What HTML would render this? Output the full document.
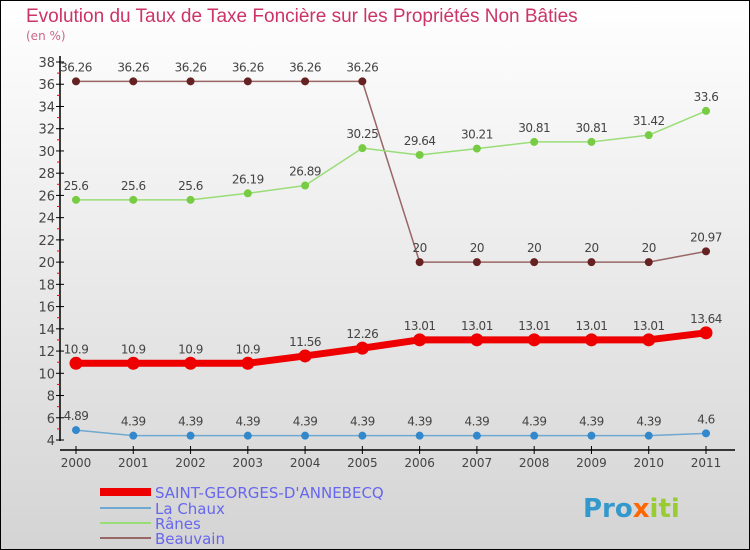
<!DOCTYPE html>
<html><head><meta charset="utf-8"><style>
body{margin:0}
svg{display:block;font-family:"DejaVu Sans","Liberation Sans",sans-serif}
</style></head><body>
<svg id="chart" width="750" height="550" xmlns="http://www.w3.org/2000/svg">
<defs><linearGradient id="bg" x1="0" y1="0" x2="0" y2="1"><stop offset="0" stop-color="#ffffff"/><stop offset="1" stop-color="#d4d4d4"/></linearGradient></defs>
<rect x="0.5" y="0.5" width="749" height="549" fill="url(#bg)" stroke="#000"/>
<text x="26" y="22" font-size="19" fill="#cc3366" font-family="Liberation Sans, sans-serif">Evolution du Taux de Taxe Foncière sur les Propriétés Non Bâties</text>
<text x="26" y="40" font-size="12" fill="#cc6688">(en %)</text>
<g id="axes"></g><g id="series"></g>
<g>
<rect x="100" y="488" width="51" height="8" fill="#ee0000"/>
<text x="155" y="498" font-size="15" fill="#6666ee">SAINT-GEORGES-D'ANNEBECQ</text>
<line x1="100" y1="508" x2="151" y2="508" stroke="#6fa8d0" stroke-width="2"/>
<text x="155" y="514" font-size="15" fill="#6666ee">La Chaux</text>
<line x1="100" y1="523" x2="151" y2="523" stroke="#99dd77" stroke-width="2"/>
<text x="155" y="529" font-size="15" fill="#6666ee">Rânes</text>
<line x1="100" y1="538" x2="151" y2="538" stroke="#996666" stroke-width="2"/>
<text x="155" y="544" font-size="15" fill="#6666ee">Beauvain</text>
</g>
<text x="583" y="517" font-size="26" font-weight="bold" fill="#3399cc">Pro<tspan fill="#ff6600">x</tspan><tspan fill="#99cc33">iti</tspan></text>
</svg>
<script>
const years=[2000,2001,2002,2003,2004,2005,2006,2007,2008,2009,2010,2011];
const yTicks=[4,6,8,10,12,14,16,18,20,22,24,26,28,30,32,34,36,38];
const stGeorges=[10.9,10.9,10.9,10.9,11.56,12.26,13.01,13.01,13.01,13.01,13.01,13.64];
const laChaux=[4.89,4.39,4.39,4.39,4.39,4.39,4.39,4.39,4.39,4.39,4.39,4.6];
const ranes=[25.6,25.6,25.6,26.19,26.89,30.25,29.64,30.21,30.81,30.81,31.42,33.6];
const beauvain=[36.26,36.26,36.26,36.26,36.26,36.26,20,20,20,20,20,20.97];
const stLabels=["10.9","10.9","10.9","10.9","11.56","12.26","13.01","13.01","13.01","13.01","13.01","13.64"];
const chauxLabels=["4.89","4.39","4.39","4.39","4.39","4.39","4.39","4.39","4.39","4.39","4.39","4.6"];
const ranesLabels=["25.6","25.6","25.6","26.19","26.89","30.25","29.64","30.21","30.81","30.81","31.42","33.6"];
const beauvainLabels=["36.26","36.26","36.26","36.26","36.26","36.26","20","20","20","20","20","20.97"];
const NS="http://www.w3.org/2000/svg";
const x=i=>76+i*(630/11);
const y=v=>62+(38-v)*(378/34);
function mk(tag,attrs,parent){const e=document.createElementNS(NS,tag);for(const k in attrs)e.setAttribute(k,attrs[k]);parent.appendChild(e);return e;}
const axes=document.getElementById('axes');
let a=mk('line',{x1:60,y1:56,x2:60,y2:441,stroke:'#000','stroke-width':1.5},axes);


a=mk('line',{x1:60,y1:450,x2:735,y2:450,stroke:'#000','stroke-width':1.5},axes);


yTicks.forEach(v=>{
 const t=mk('line',{x1:56,y1:y(v),x2:64,y2:y(v),stroke:'#000'},axes);
 
 
 if(v<38){const m=mk('line',{x1:57,y1:y(v+1),x2:60,y2:y(v+1),stroke:'#f00'},axes);
 
 }
 const l=mk('text',{x:55,y:y(v)+5,'text-anchor':'end','font-size':13,fill:'#444'},axes);
 l.textContent=v;
 
 
});
years.forEach((yr,i)=>{
 const t=mk('line',{x1:x(i),y1:446,x2:x(i),y2:454,stroke:'#000'},axes);
 
 
 const l=mk('text',{x:x(i),y:467,'text-anchor':'middle','font-size':12,fill:'#444'},axes);
 l.textContent=yr;
 
 
});
const ser=document.getElementById('series');
function draw(name,vals,labels,color,dot,w,r){
 const g=mk('g',{},ser);
 
 
 const p=mk('polyline',{points:vals.map((v,i)=>x(i)+','+y(v)).join(' '),fill:'none',stroke:color,'stroke-width':w,'stroke-linejoin':'round'},g);
 
 
 vals.forEach((v,i)=>{
  const c=mk('circle',{cx:x(i),cy:y(v),r:r,fill:dot},g);
  
  
  const t=mk('text',{x:x(i),y:y(v)-10,'text-anchor':'middle','font-size':12,fill:'#444','letter-spacing':'-0.5'},g);
  t.textContent=labels[i];
  
  
 });
}
draw('beauvain',beauvain,beauvainLabels,'#996666','#662222',1.5,4);
draw('ranes',ranes,ranesLabels,'#99dd77','#77cc44',1.5,4);
draw('la-chaux',laChaux,chauxLabels,'#6fa8d0','#3388cc',1.5,4);
draw('saint-georges',stGeorges,stLabels,'#ee0000','#ee0000',7,6.5);
</script>
</body></html>
